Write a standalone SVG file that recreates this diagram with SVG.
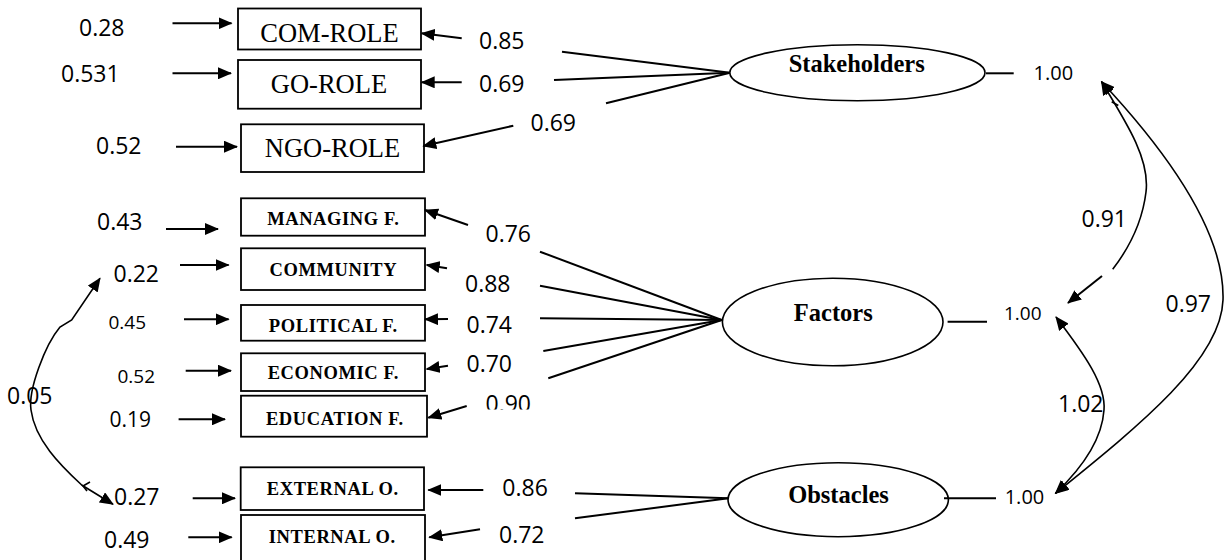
<svg xmlns="http://www.w3.org/2000/svg" width="1225" height="560" viewBox="0 0 1225 560">
<style>
.box{fill:#fff;stroke:#000;stroke-width:1.8}
.lat{fill:#fff;stroke:#000;stroke-width:1.6}
.t1{font-family:"Liberation Serif","Times New Roman",serif;font-size:26.5px;text-anchor:middle;fill:#000}
.t2{font-family:"Liberation Serif","Times New Roman",serif;font-weight:bold;font-size:18.5px;letter-spacing:0.6px;text-anchor:middle;fill:#000}
.t3{font-family:"Liberation Serif","Times New Roman",serif;font-weight:bold;font-size:24.5px;text-anchor:middle;fill:#000}
.n{font-family:"Open Sans","Liberation Sans",sans-serif;font-size:23px;fill:#000}
.s19{font-size:19px}
.s20{font-size:20px}
.s21{font-size:21px}
.c{stroke:#000;stroke-width:2;fill:none}
.cv{stroke:#000;stroke-width:1.6;fill:none}
.a{marker-end:url(#ah)}
.aa{marker-start:url(#ah);marker-end:url(#ah)}
.as{marker-start:url(#ah)}
</style>
<defs>
<marker id="ah" viewBox="0 0 14 12" refX="13" refY="6" markerWidth="14" markerHeight="12" markerUnits="userSpaceOnUse" orient="auto-start-reverse">
<path d="M0,0 L14,6 L0,12 z" fill="#000"/>
</marker>
<clipPath id="clip090"><rect x="470" y="380" width="80" height="29.5"/></clipPath>
</defs>
<rect width="1225" height="560" fill="#fff"/>

<g id="com-role"><rect class="box" x="238" y="8.5" width="183" height="41"/><text class="t1" x="329.5" y="41.7">COM-ROLE</text></g>
<g id="go-role"><rect class="box" x="238" y="60" width="183" height="48.7"/><text class="t1" x="329" y="92.7">GO-ROLE</text></g>
<g id="ngo-role"><rect class="box" x="241" y="124.3" width="183" height="47.7"/><text class="t1" x="332.5" y="157.3">NGO-ROLE</text></g>

<g id="managing-f"><rect class="box" x="241" y="198.3" width="184" height="37.4"/><text class="t2" x="333.3" y="225">MANAGING F.</text></g>
<g id="community"><rect class="box" x="241" y="248.3" width="184" height="41.7"/><text class="t2" x="333.3" y="276">COMMUNITY</text></g>
<g id="political-f"><rect class="box" x="241" y="305" width="184" height="35.7"/><text class="t2" x="333.3" y="331.7">POLITICAL F.</text></g>
<g id="economic-f"><rect class="box" x="241" y="353.3" width="184" height="37.7"/><text class="t2" x="333.3" y="379">ECONOMIC F.</text></g>
<g id="education-f"><rect class="box" x="241" y="395.7" width="186" height="41"/><text class="t2" x="334.8" y="425">EDUCATION F.</text></g>

<g id="external-o"><rect class="box" x="240.7" y="467.3" width="183.3" height="42.7"/><text class="t2" x="332.8" y="495">EXTERNAL O.</text></g>
<g id="internal-o"><rect class="box" x="241" y="515" width="184" height="60"/><text class="t2" x="332.2" y="543">INTERNAL O.</text></g>

<g id="stakeholders"><ellipse class="lat" cx="857.4" cy="72.7" rx="127.6" ry="28"/><text class="t3" x="856.7" y="72.3">Stakeholders</text></g>
<g id="factors"><ellipse class="lat" cx="832.7" cy="322" rx="110.3" ry="43.8"/><text class="t3" x="833.3" y="320.7">Factors</text></g>
<g id="obstacles"><ellipse class="lat" cx="838.2" cy="499.7" rx="110.2" ry="37"/><text class="t3" x="838.5" y="502.7">Obstacles</text></g>

<g id="connectors">
<!-- error arrows into indicators -->
<line class="c a" x1="172.5" y1="23.3" x2="231.5" y2="23.3"/>
<line class="c a" x1="172.5" y1="73.3" x2="231" y2="73.3"/>
<line class="c a" x1="176" y1="146.7" x2="237" y2="146.7"/>
<line class="c a" x1="166" y1="229" x2="218" y2="229"/>
<line class="c a" x1="180" y1="265" x2="228.6" y2="265"/>
<line class="c a" x1="184" y1="319.3" x2="228.6" y2="319.3"/>
<line class="c a" x1="185.7" y1="370.7" x2="231" y2="370.7"/>
<line class="c a" x1="178.6" y1="419.3" x2="225" y2="419.3"/>
<line class="c a" x1="192.7" y1="498.3" x2="235" y2="498.3"/>
<line class="c a" x1="188.3" y1="537.3" x2="231.7" y2="537.3"/>
<!-- loadings: Stakeholders -->
<line class="c a" x1="461.7" y1="38.3" x2="421.7" y2="33.3"/>
<line class="c a" x1="461.7" y1="82.3" x2="421.7" y2="82.3"/>
<line class="c a" x1="513.3" y1="125.7" x2="423.3" y2="146"/>
<line class="c" x1="562" y1="51.7" x2="730" y2="72.7"/>
<line class="c" x1="554" y1="80" x2="730" y2="72.7"/>
<line class="c" x1="606" y1="103.3" x2="730" y2="72.7"/>
<line class="c" x1="986" y1="73.3" x2="1013.7" y2="73.3"/>
<!-- loadings: Factors -->
<line class="c a" x1="468" y1="225" x2="425" y2="210"/>
<line class="c a" x1="447" y1="268.3" x2="426.7" y2="265"/>
<line class="c a" x1="448" y1="319" x2="425" y2="319.3"/>
<line class="c a" x1="448" y1="365.7" x2="426.7" y2="369"/>
<line class="c a" x1="466.7" y1="406" x2="428.3" y2="417.7"/>
<line class="c" x1="540" y1="251.7" x2="721.7" y2="320"/>
<line class="c" x1="540" y1="285.7" x2="721.7" y2="320"/>
<line class="c" x1="540" y1="318.3" x2="721.7" y2="320"/>
<line class="c" x1="543.3" y1="351" x2="721.7" y2="320"/>
<line class="c" x1="548.3" y1="378.3" x2="721.7" y2="320"/>
<line class="c" x1="947.6" y1="321.7" x2="987" y2="321.7"/>
<!-- loadings: Obstacles -->
<line class="c a" x1="483.3" y1="490" x2="428.3" y2="490"/>
<line class="c a" x1="480" y1="529.3" x2="429.3" y2="537.3"/>
<line class="c" x1="575" y1="493.3" x2="728.3" y2="498.3"/>
<line class="c" x1="575" y1="518.3" x2="728.3" y2="498.3"/>
<line class="c" x1="944" y1="498.3" x2="996" y2="498.3"/>
<!-- covariances -->
<path class="cv as" d="M1101.5,81.7 C1128,125 1150,160 1146,192 C1142,225 1126,252 1112.7,269.3"/>
<line class="c a" x1="1102" y1="276" x2="1068" y2="303"/>
<path class="cv aa" d="M1101.5,81.7 C1170,155 1225,235 1223,300 C1221,360 1140,425 1055.5,493.3"/>
<path class="cv aa" d="M1056,317 C1085,355 1106,385 1104,410 C1102,440 1080,470 1055.5,493.3"/>
<path class="cv aa" d="M100,278.3 L71.7,320 L60,327 C45,345 28,390 31,410 C35,440 60,465 81.7,485 L113,504.3"/>
<path class="cv" d="M90,482 L83,486 L87,491"/>
<path class="cv" d="M1111.7,101.7 L1118.3,105.5"/>
</g>

<g id="labels">
<text class="n" x="79" y="36">0.28</text>
<text class="n" x="61" y="81.7">0.531</text>
<text class="n" x="96" y="154">0.52</text>
<text class="n" x="479" y="49.3">0.85</text>
<text class="n" x="479" y="91.7">0.69</text>
<text class="n" x="530.5" y="130.7">0.69</text>
<text class="n s20" x="1033.5" y="80">1.00</text>
<text class="n" x="97" y="230">0.43</text>
<text class="n" x="113.5" y="281.7">0.22</text>
<text class="n s19" x="108.5" y="329">0.45</text>
<text class="n s19" x="117.5" y="382.7">0.52</text>
<text class="n s21" x="109.5" y="427">0.19</text>
<text class="n" x="7" y="404">0.05</text>
<text class="n" x="485.5" y="242.3">0.76</text>
<text class="n" x="465" y="292.3">0.88</text>
<text class="n" x="466.5" y="333.3">0.74</text>
<text class="n" x="466.5" y="372.3">0.70</text>
<text class="n" x="485.5" y="411.5" clip-path="url(#clip090)">0.90</text>
<text class="n s19" x="1004" y="320">1.00</text>
<text class="n" x="1081.5" y="227.3">0.91</text>
<text class="n" x="1165.5" y="312.3">0.97</text>
<text class="n" x="1058" y="411.7">1.02</text>
<text class="n" x="114" y="505">0.27</text>
<text class="n" x="104" y="548">0.49</text>
<text class="n" x="502.3" y="496">0.86</text>
<text class="n" x="499" y="543">0.72</text>
<text class="n s20" x="1004.7" y="504">1.00</text>
</g>
</svg>
